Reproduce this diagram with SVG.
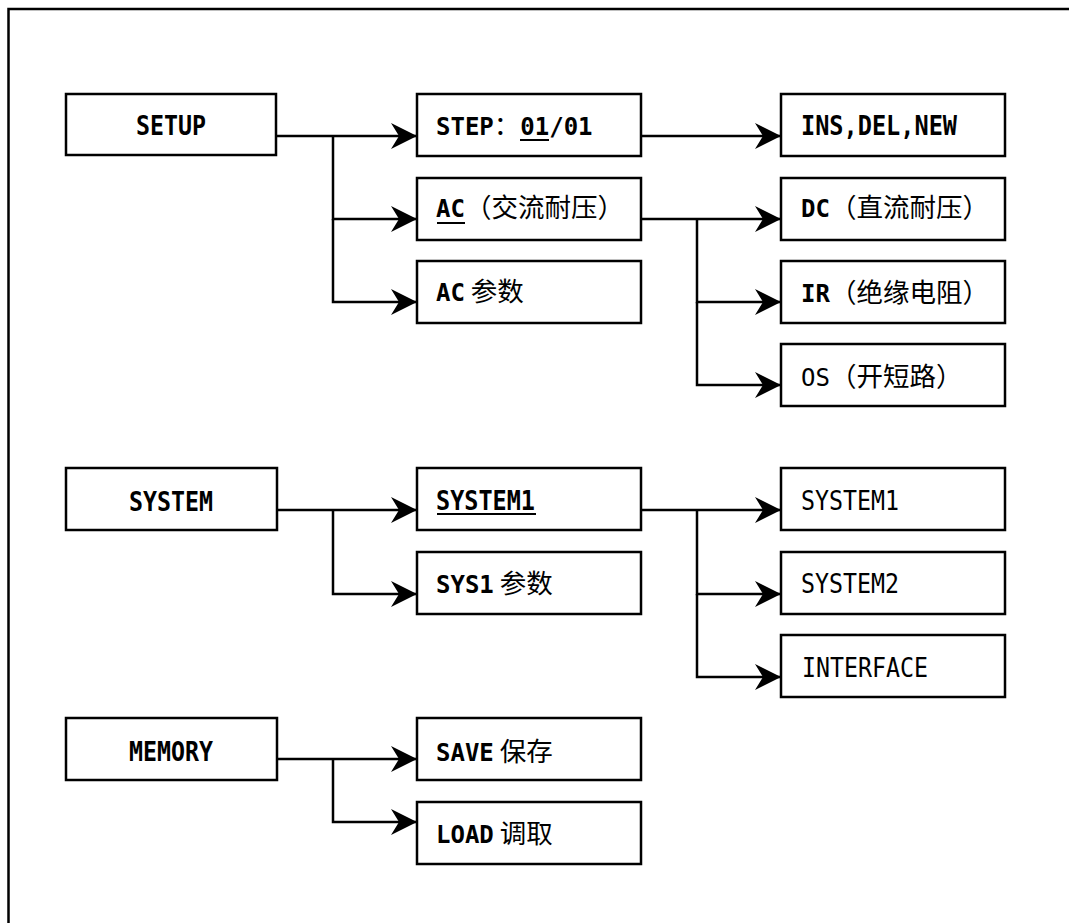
<svg xmlns="http://www.w3.org/2000/svg" width="1069" height="923" viewBox="0 0 1069 923">
<style>
.box{fill:#fff;stroke:#000;stroke-width:2.5}
text{font-family:"DejaVu Sans Mono","Liberation Mono",monospace;font-size:26px;fill:#000}
.mx{font-size:24px}
.b{font-weight:bold}
.n{font-weight:normal}
.cjk{font-family:"Noto Sans CJK SC","Noto Sans CJK JP",sans-serif;font-size:26.5px;font-weight:400}
.mid{text-anchor:middle}
.conn path{fill:none;stroke:#000;stroke-width:2.5}
.ul{stroke:#000;stroke-width:2}
.frame{fill:none;stroke:#000;stroke-width:2.5}
</style>
<defs>
<marker id="ah" viewBox="0 0 26 26" refX="26" refY="13" markerWidth="26" markerHeight="26" markerUnits="userSpaceOnUse" orient="auto">
<path d="M26,13 L0,0 L8,13 L0,26 Z" fill="#000"/>
</marker>
</defs>
<rect width="1069" height="923" fill="#fff"/>
<path class="frame" d="M8.5,923 V9 H1069"/>
<g id="connectors" class="conn">
<path d="M276,136 H417" marker-end="url(#ah)"/>
<path d="M333,136 V219 H417" marker-end="url(#ah)"/>
<path d="M333,219 V302 H417" marker-end="url(#ah)"/>
<path d="M641,136 H781" marker-end="url(#ah)"/>
<path d="M641,219 H781" marker-end="url(#ah)"/>
<path d="M697,219 V302 H781" marker-end="url(#ah)"/>
<path d="M697,302 V385 H781" marker-end="url(#ah)"/>
<path d="M277,510 H417" marker-end="url(#ah)"/>
<path d="M333,510 V594 H417" marker-end="url(#ah)"/>
<path d="M641,510 H781" marker-end="url(#ah)"/>
<path d="M697,510 V594 H781" marker-end="url(#ah)"/>
<path d="M697,594 V677 H781" marker-end="url(#ah)"/>
<path d="M277,759 H417" marker-end="url(#ah)"/>
<path d="M333,759 V822 H417" marker-end="url(#ah)"/>
</g>
<g id="setup"><rect class="box" x="66" y="94" width="210" height="61"/><text class="b mid" x="171" y="135" textLength="70" lengthAdjust="spacingAndGlyphs">SETUP</text></g>
<g id="step"><rect class="box" x="417" y="94" width="224" height="62"/><text class="mx b" x="436" y="135">STEP<tspan class="cjk">：</tspan>01/01</text><line class="ul" x1="520" y1="140" x2="549" y2="140"/></g>
<g id="ac"><rect class="box" x="417" y="178" width="224" height="62"/><text class="mx b" x="436" y="217">AC<tspan class="cjk">（交流耐压）</tspan></text><line class="ul" x1="437" y1="223" x2="465" y2="223"/></g>
<g id="acparam"><rect class="box" x="417" y="261" width="224" height="62"/><text class="mx b" x="436" y="301">AC<tspan class="cjk"> 参数</tspan></text></g>
<g id="insdelnew"><rect class="box" x="781" y="94" width="224" height="62"/><text class="b" x="801" y="135" textLength="156" lengthAdjust="spacingAndGlyphs">INS,DEL,NEW</text></g>
<g id="dc"><rect class="box" x="781" y="178" width="224" height="62"/><text class="mx b" x="801" y="217">DC<tspan class="cjk">（直流耐压）</tspan></text></g>
<g id="ir"><rect class="box" x="781" y="261" width="224" height="62"/><text class="mx b" x="801" y="302">IR<tspan class="cjk">（绝缘电阻）</tspan></text></g>
<g id="os"><rect class="box" x="781" y="344" width="224" height="62"/><text class="mx n" x="801" y="386">OS<tspan class="cjk">（开短路）</tspan></text></g>
<g id="system"><rect class="box" x="66" y="468" width="211" height="62"/><text class="b mid" x="171" y="511" textLength="84" lengthAdjust="spacingAndGlyphs">SYSTEM</text></g>
<g id="system1mid"><rect class="box" x="417" y="468" width="224" height="62"/><text class="b" x="436" y="510" textLength="99" lengthAdjust="spacingAndGlyphs">SYSTEM1</text><line class="ul" x1="437" y1="514" x2="536" y2="514"/></g>
<g id="sys1param"><rect class="box" x="417" y="552" width="224" height="62"/><text class="mx b" x="436" y="593">SYS1<tspan class="cjk"> 参数</tspan></text></g>
<g id="system1"><rect class="box" x="781" y="468" width="224" height="62"/><text class="n" x="801" y="510" textLength="98" lengthAdjust="spacingAndGlyphs">SYSTEM1</text></g>
<g id="system2"><rect class="box" x="781" y="552" width="224" height="62"/><text class="n" x="801" y="593" textLength="98" lengthAdjust="spacingAndGlyphs">SYSTEM2</text></g>
<g id="interface"><rect class="box" x="781" y="635" width="224" height="62"/><text class="n" x="802" y="677" textLength="126" lengthAdjust="spacingAndGlyphs">INTERFACE</text></g>
<g id="memory"><rect class="box" x="66" y="718" width="211" height="62"/><text class="b mid" x="171" y="761" textLength="84" lengthAdjust="spacingAndGlyphs">MEMORY</text></g>
<g id="save"><rect class="box" x="417" y="718" width="224" height="62"/><text class="mx b" x="436" y="761">SAVE<tspan class="cjk"> 保存</tspan></text></g>
<g id="load"><rect class="box" x="417" y="802" width="224" height="62"/><text class="mx b" x="436" y="843">LOAD<tspan class="cjk"> 调取</tspan></text></g>
</svg>
